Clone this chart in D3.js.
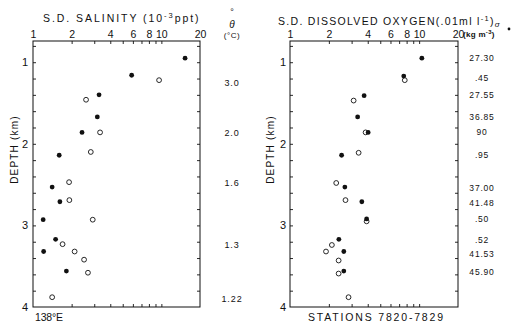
<!DOCTYPE html>
<html>
<head>
<meta charset="utf-8">
<script src="https://cdn.jsdelivr.net/npm/d3@7"></script>
<style>
  html, body { margin: 0; padding: 0; background: #fff; }
  svg { display: block; }
  text { font-family: "Liberation Sans", "DejaVu Sans", sans-serif; fill: #111; }
</style>
</head>
<body>
<svg id="chart" width="512" height="322"></svg>
<script>
// Standard deviation profiles versus depth (stations 7820-7829, 138°E)
const sdTicksLabeled = [1, 2, 4, 6, 8, 10, 20];
const sdTicksAll = [2, 3, 4, 5, 6, 7, 8, 9, 10];
const depthTicksLabeled = [1, 2, 3, 4];
const depthTicksMinor = [0.8, 1.0, 1.2, 1.4, 1.6, 1.8, 2.0, 2.2, 2.4, 2.6, 2.8, 3.0, 3.2, 3.4, 3.6, 3.8];

// salinity, 10^-3 ppt
const salFilledDepth = [0.95, 1.16, 1.40, 1.67, 1.86, 2.14, 2.53, 2.71, 2.93, 3.17, 3.32, 3.56];
const salFilledSD    = [15.3, 5.87, 3.27, 3.17, 2.41, 1.60, 1.41, 1.62, 1.20, 1.50, 1.21, 1.82];
const salOpenDepth   = [1.22, 1.46, 1.86, 2.10, 2.47, 2.69, 2.93, 3.23, 3.32, 3.42, 3.58, 3.88];
const salOpenSD      = [9.6, 2.59, 3.33, 2.82, 1.91, 1.92, 2.92, 1.70, 2.11, 2.50, 2.68, 1.41];

// dissolved oxygen, .01 ml/l
const oxyFilledDepth = [0.95, 1.17, 1.41, 1.67, 1.86, 2.14, 2.53, 2.71, 2.92, 3.17, 3.32, 3.56];
const oxyFilledSD    = [10.5, 7.60, 3.75, 3.34, 4.03, 2.51, 2.66, 3.60, 3.92, 2.39, 2.61, 2.61];
const oxyOpenDepth   = [1.22, 1.47, 1.86, 2.11, 2.48, 2.69, 2.95, 3.24, 3.32, 3.43, 3.59, 3.88];
const oxyOpenSD      = [7.74, 3.11, 3.85, 3.40, 2.28, 2.69, 3.92, 2.11, 1.90, 2.38, 2.38, 2.84];

// potential temperature and sigma annotations
const thetaLabels = ["3.0", "2.0", "1.6", "1.3", "1.22"];
const thetaDepth  = [1.25, 1.87, 2.48, 3.24, 3.90];
const sigmaLabels = ["27.30", ".45", "27.55", "36.85", "90", ".95", "37.00", "41.48", ".50", ".52", "41.53", "45.90"];
const sigmaDepth  = [0.945, 1.19, 1.40, 1.675, 1.85, 2.14, 2.54, 2.73, 2.92, 3.18, 3.35, 3.57];

const svg = d3.select("#chart");
svg.append("rect").attr("width", 512).attr("height", 322).attr("fill", "#fff");

const y = d3.scaleLinear().domain([0.74, 4]).range([41, 307]);

function panel(x0, x1, filledD, filledV, openD, openV, bottomLabel, bottomX, bottomLen, depthLabelX, numX) {
  const x = d3.scaleLog().domain([1, 20]).range([x0, x1]);
  const g = svg.append("g");

  g.append("rect").attr("x", x0).attr("y", y.range()[0])
    .attr("width", x1 - x0).attr("height", y.range()[1] - y.range()[0])
    .attr("fill", "none").attr("stroke", "#111").attr("stroke-width", 1);

  // top ticks pointing in
  g.append("g").attr("transform", `translate(0,${y.range()[0]})`)
    .call(d3.axisTop(x).tickValues(sdTicksAll).tickSize(-3).tickFormat(""))
    .call(s => s.select(".domain").remove());
  // bottom ticks pointing in
  g.append("g").attr("transform", `translate(0,${y.range()[1]})`)
    .call(d3.axisBottom(x).tickValues(sdTicksAll).tickSize(-3).tickFormat(""))
    .call(s => s.select(".domain").remove());
  // labels above the frame
  g.append("g").attr("transform", `translate(0,${y.range()[0] - 3})`)
    .call(d3.axisTop(x).tickValues(sdTicksLabeled).tickSize(0).tickPadding(0).tickFormat(d3.format("d")))
    .call(s => s.select(".domain").remove())
    .call(s => s.selectAll("text").attr("font-size", 10.5).attr("font-family", "Liberation Sans, sans-serif").attr("fill", "#111"));

  // depth ticks on both sides, pointing in
  g.append("g").attr("transform", `translate(${x0},0)`)
    .call(d3.axisRight(y).tickValues(depthTicksMinor).tickSize(3).tickFormat(""))
    .call(s => s.select(".domain").remove());
  g.append("g").attr("transform", `translate(${x1},0)`)
    .call(d3.axisLeft(y).tickValues(depthTicksMinor).tickSize(3).tickFormat(""))
    .call(s => s.select(".domain").remove());
  g.selectAll(".tick line").attr("stroke", "#111").attr("stroke-width", 0.9);

  // depth labels
  g.selectAll("text.dnum").data(depthTicksLabeled).join("text")
    .attr("class", "dnum")
    .attr("x", numX).attr("y", d => y(d)).attr("dy", "0.36em")
    .attr("text-anchor", "middle").attr("font-size", 11)
    .text(d => d);

  g.append("text")
    .attr("transform", `translate(${depthLabelX},${y(2.07)}) rotate(-90)`)
    .attr("text-anchor", "middle").attr("dy", "0.36em")
    .attr("font-size", 10).attr("letter-spacing", 1.2)
    .text("DEPTH (km)");

  // open circles, then filled on top
  g.selectAll("circle.open").data(d3.range(openD.length)).join("circle")
    .attr("class", "open")
    .attr("cx", i => x(openV[i])).attr("cy", i => y(openD[i])).attr("r", 2.4)
    .attr("fill", "#fff").attr("stroke", "#111").attr("stroke-width", 0.9);
  g.selectAll("circle.fill").data(d3.range(filledD.length)).join("circle")
    .attr("class", "fill")
    .attr("cx", i => x(filledV[i])).attr("cy", i => y(filledD[i])).attr("r", 2.4)
    .attr("fill", "#111");

  g.append("text").attr("x", bottomX).attr("y", 317).attr("dy", "0.36em")
    .attr("font-size", 10.5).attr("textLength", bottomLen).attr("lengthAdjust", "spacing")
    .text(bottomLabel);
  return { g, x };
}

panel(33, 200, salFilledDepth, salFilledSD, salOpenDepth, salOpenSD, "138°E", 35, 28, 14, 25);
panel(290, 458, oxyFilledDepth, oxyFilledSD, oxyOpenDepth, oxyOpenSD, "STATIONS  7820-7829", 308, 135, 270, 283);

// panel titles
const t1 = svg.append("text").attr("x", 43).attr("y", 18).attr("dy", "0.36em")
  .attr("font-size", 10.5).attr("letter-spacing", 1.95);
t1.append("tspan").text("S.D. SALINITY  (10");
t1.append("tspan").attr("font-size", 7.5).attr("dy", "-0.45em").text("-3");
t1.append("tspan").attr("dy", "0.3em").text("ppt)");

const t2 = svg.append("text").attr("x", 278).attr("y", 21).attr("dy", "0.36em")
  .attr("font-size", 10.5).attr("letter-spacing", 1.3);
t2.append("tspan").text("S.D. DISSOLVED OXYGEN(.01ml l");
t2.append("tspan").attr("font-size", 7.5).attr("dy", "-0.45em").text("-1");
t2.append("tspan").attr("dy", "0.3em").text(")");
t2.append("tspan").attr("font-size", 8).attr("font-style", "italic").attr("dy", "0.35em").text("σ");

// theta column header
svg.append("text").attr("x", 232).attr("y", 12).attr("dy", "0.36em").attr("text-anchor", "middle")
  .attr("font-size", 9).text("°");
svg.append("text").attr("x", 232).attr("y", 24).attr("dy", "0.36em").attr("text-anchor", "middle")
  .attr("font-size", 10).attr("font-style", "italic").text("θ");
svg.append("text").attr("x", 232).attr("y", 35).attr("dy", "0.36em").attr("text-anchor", "middle")
  .attr("font-size", 8).attr("letter-spacing", 0.5).text("(°C)");

svg.selectAll("text.theta").data(thetaLabels).join("text")
  .attr("class", "theta")
  .attr("x", 232).attr("y", (d, i) => y(thetaDepth[i])).attr("dy", "0.36em")
  .attr("text-anchor", "middle").attr("font-size", 9).attr("letter-spacing", 0.9)
  .text(d => d);

// sigma column
const sh = svg.append("text").attr("x", 463).attr("y", 34).attr("dy", "0.36em")
  .attr("font-size", 8).attr("font-weight", "bold").attr("letter-spacing", 0.3);
sh.append("tspan").text("(kg m");
sh.append("tspan").attr("font-size", 6).attr("dy", "-0.4em").text("-3");
sh.append("tspan").attr("dy", "0.3em").text(")");
svg.append("circle").attr("cx", 509).attr("cy", 29).attr("r", 1.4).attr("fill", "#111");

svg.selectAll("text.sigma").data(sigmaLabels).join("text")
  .attr("class", "sigma")
  .attr("x", 482).attr("y", (d, i) => y(sigmaDepth[i])).attr("dy", "0.36em")
  .attr("text-anchor", "middle").attr("font-size", 8.5).attr("letter-spacing", 0.8)
  .text(d => d);
</script>
</body>
</html>
